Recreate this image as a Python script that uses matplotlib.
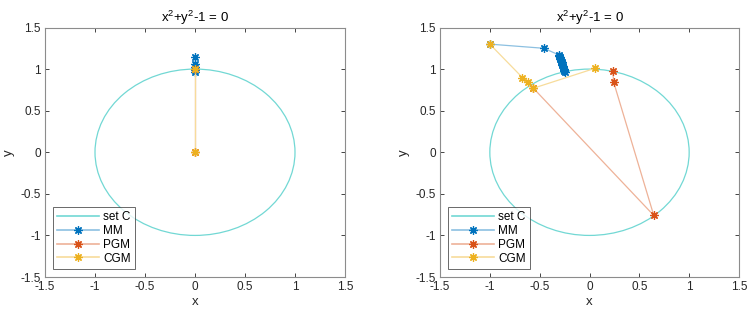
import matplotlib
matplotlib.use('Agg')
import matplotlib.pyplot as plt
from matplotlib.patches import Circle
from matplotlib.lines import Line2D
from matplotlib.colors import to_rgb

plt.rcParams['font.family'] = ['Liberation Sans', 'DejaVu Sans']
plt.rcParams['mathtext.fontset'] = 'custom'
plt.rcParams['mathtext.rm'] = 'Liberation Sans'
plt.rcParams['mathtext.it'] = 'Liberation Sans'

# 集合 C: 单位圆
circle_center = (0.0, 0.0)
circle_radius = 1.0

# 左图迭代轨迹
left_mm_x = [0.0, 0.0, 0.0, 0.0, 0.0]
left_mm_y = [1.14, 1.06, 0.96, 1.02, 0.99]
left_pgm_x = [0.0, 0.0]
left_pgm_y = [0.0, 1.0]
left_cgm_x = [0.0, 0.0]
left_cgm_y = [0.0, 1.0]

# 右图迭代轨迹
right_mm_x = [-1.0, -0.457, -0.307, -0.302, -0.297, -0.292, -0.288, -0.284, -0.280,
              -0.276, -0.272, -0.268, -0.264, -0.260, -0.256, -0.253, -0.250]
right_mm_y = [1.30, 1.25, 1.17, 1.155, 1.14, 1.125, 1.11, 1.095, 1.08,
              1.065, 1.05, 1.035, 1.02, 1.005, 0.99, 0.98, 0.97]
right_pgm_x = [-0.563, 0.645, 0.243, 0.233]
right_pgm_y = [0.77, -0.76, 0.84, 0.98]
right_cgm_x = [-1.0, -0.673, -0.62, -0.563, 0.057]
right_cgm_y = [1.30, 0.898, 0.84, 0.77, 1.01]

title_text = 'x$^2$+y$^2$-1 = 0'
ticks = [-1.5, -1, -0.5, 0, 0.5, 1, 1.5]
tick_labels = ['-1.5', '-1', '-0.5', '0', '0.5', '1', '1.5']
legend_names = ['set C', 'MM', 'PGM', 'CGM']

c_set = '#72d8d4'
c_mm = '#0072BD'
c_pgm = '#D95319'
c_cgm = '#EDB120'
line_alpha = 0.45
axis_gray = '#262626'


def light(color, a=line_alpha):
    # 与白色预混合, 重叠时不变色
    r, g, b = to_rgb(color)
    return (1 - a + a * r, 1 - a + a * g, 1 - a + a * b)


fig = plt.figure(figsize=(7.49, 3.13), dpi=100)
ax_l = fig.add_axes([45 / 749, 36 / 313, 300 / 749, 249.5 / 313])
ax_r = fig.add_axes([440 / 749, 36 / 313, 299 / 749, 249.5 / 313])

mk = dict(marker=(8, 2, 0), markersize=6, markeredgewidth=0.9)


def draw_path(ax, xs, ys, color):
    ax.plot(xs, ys, '-', color=light(color), linewidth=0.9,
            markeredgecolor=color, markerfacecolor=color, **mk)


def setup(ax, mm, pgm, cgm):
    ax.add_patch(Circle(circle_center, circle_radius, fill=False,
                        edgecolor=c_set, linewidth=0.9))
    draw_path(ax, mm[0], mm[1], c_mm)
    draw_path(ax, pgm[0], pgm[1], c_pgm)
    draw_path(ax, cgm[0], cgm[1], c_cgm)
    ax.set_xlim(-1.5, 1.5)
    ax.set_ylim(-1.5, 1.5)
    ax.set_xticks(ticks)
    ax.set_xticklabels(tick_labels)
    ax.set_yticks(ticks)
    ax.set_yticklabels(tick_labels)
    ax.tick_params(direction='in', top=True, right=True, length=3, width=0.6,
                   colors=axis_gray, labelsize=8.5, pad=3)
    for s in ax.spines.values():
        s.set_color('#8c8c8c')
        s.set_linewidth(0.8)
    ax.set_title(title_text, fontsize=9.5, color='black', pad=4)
    ax.set_xlabel('x', fontsize=9.5, color=axis_gray, labelpad=2)
    ax.set_ylabel('y', fontsize=9.5, color=axis_gray, labelpad=4)

    handles = [Line2D([], [], color=c_set, linewidth=1.2)]
    for col in [c_mm, c_pgm, c_cgm]:
        handles.append(Line2D([], [], color=light(col), linewidth=1.2,
                              markeredgecolor=col, markerfacecolor=col, **mk))
    leg = ax.legend(handles, legend_names, loc='lower left', fontsize=8.5,
                    frameon=True, fancybox=False, handlelength=3.5,
                    borderaxespad=0.7, borderpad=0.35, labelspacing=0.15,
                    handletextpad=0.4)
    leg.get_frame().set_edgecolor('#262626')
    leg.get_frame().set_linewidth(0.6)


setup(ax_l, (left_mm_x, left_mm_y), (left_pgm_x, left_pgm_y), (left_cgm_x, left_cgm_y))
setup(ax_r, (right_mm_x, right_mm_y), (right_pgm_x, right_pgm_y), (right_cgm_x, right_cgm_y))

fig.savefig('out.png', dpi=100)
